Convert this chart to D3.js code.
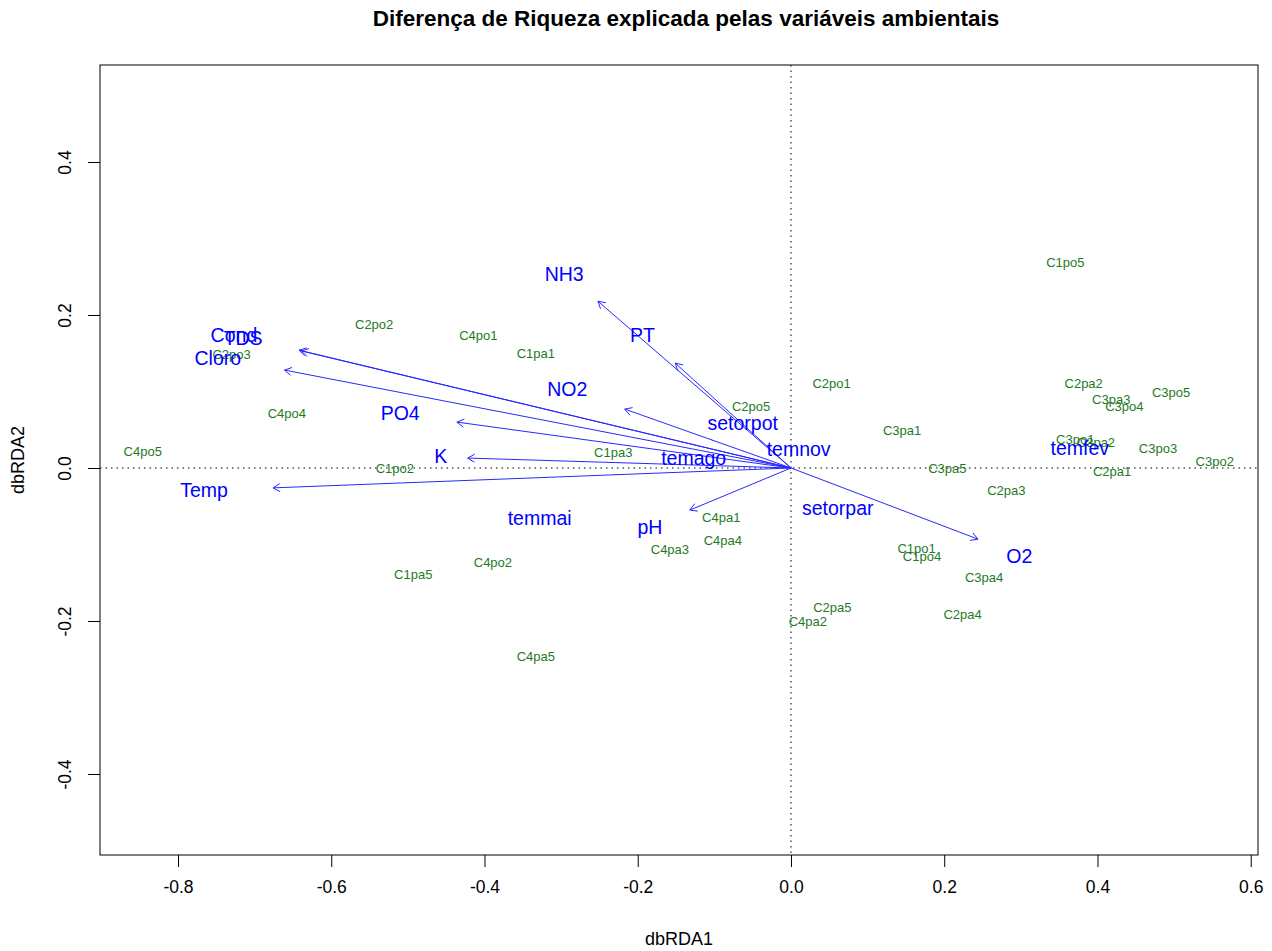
<!DOCTYPE html>
<html>
<head>
<meta charset="utf-8">
<script src="https://cdn.jsdelivr.net/npm/d3@7"></script>
<style>
  body { margin: 0; background: #fff; }
  text { font-family: "Liberation Sans", Arial, Helvetica, sans-serif; }
</style>
</head>
<body>
<svg id="plot" width="1272" height="951"></svg>
<script>
// site scores (green labels)
const siteNames = ["C2po2", "C2po3", "C4po4", "C4po5", "C1po2", "C4po1", "C1pa1", "C1pa3", "C2po5",
  "C1po5", "C2po1", "C2pa2", "C3po5", "C3pa3", "C3po4", "C3pa1", "C3po1", "C3pa2", "C3po3", "C3po2",
  "C3pa5", "C2pa1", "C2pa3", "C4pa1", "C4pa4", "C4pa3", "C4po2", "C1pa5", "C4pa5",
  "C1po1", "C1po4", "C3pa4", "C2pa5", "C4pa2", "C2pa4"];
const siteX = [-0.544, -0.730, -0.658, -0.846, -0.517, -0.408, -0.333, -0.232, -0.052,
  0.358, 0.053, 0.382, 0.496, 0.418, 0.435, 0.145, 0.371, 0.398, 0.479, 0.553,
  0.204, 0.419, 0.281, -0.091, -0.089, -0.158, -0.389, -0.493, -0.333,
  0.164, 0.171, 0.252, 0.054, 0.022, 0.224];
const siteY = [0.188, 0.149, 0.071, 0.021, 0.000, 0.173, 0.150, 0.020, 0.080,
  0.269, 0.110, 0.111, 0.099, 0.090, 0.080, 0.049, 0.037, 0.034, 0.026, 0.009,
  -0.001, -0.005, -0.030, -0.065, -0.095, -0.107, -0.123, -0.139, -0.246,
  -0.105, -0.115, -0.143, -0.182, -0.201, -0.191];

// biplot arrows for continuous variables
const vecNames = ["NH3", "PT", "Cond", "TDS", "Cloro", "PO4", "NO2", "K", "Temp", "pH", "O2"];
const vecX = [-0.252, -0.151, -0.642, -0.639, -0.661, -0.436, -0.217, -0.422, -0.676, -0.132, 0.244];
const vecY = [0.218, 0.137, 0.154, 0.153, 0.128, 0.060, 0.077, 0.013, -0.026, -0.055, -0.093];
const vecLabX = [-0.296, -0.194, -0.727, -0.715, -0.748, -0.510, -0.292, -0.457, -0.766, -0.184, 0.298];
const vecLabY = [0.254, 0.174, 0.173, 0.170, 0.144, 0.072, 0.103, 0.016, -0.029, -0.077, -0.115];

// factor centroids (blue labels, no arrows)
const facNames = ["temmai", "temago", "setorpot", "temnov", "setorpar", "temfev"];
const facX = [-0.328, -0.127, -0.063, 0.010, 0.061, 0.377];
const facY = [-0.065, 0.013, 0.058, 0.024, -0.052, 0.026];

const xTicks = [-0.8, -0.6, -0.4, -0.2, 0.0, 0.2, 0.4, 0.6];
const yTicks = [-0.4, -0.2, 0.0, 0.2, 0.4];

const mLeft = 100, mRight = 1258, mTop = 65, mBottom = 855;

const svg = d3.select("#plot");

const x = d3.scaleLinear().domain([-0.9018, 0.6095]).range([mLeft, mRight]);
const y = d3.scaleLinear().domain([-0.5059, 0.5268]).range([mBottom, mTop]);

// title
svg.append("text")
    .attr("x", (mLeft + mRight) / 2 + 7)
    .attr("y", 26)
    .attr("text-anchor", "middle")
    .style("font-size", "22.5px")
    .style("font-weight", "bold")
    .text("Diferença de Riqueza explicada pelas variáveis ambientais");

// axes
const fmt = d3.format(".1f");
const xAxis = svg.append("g")
    .attr("transform", "translate(0," + mBottom + ")")
    .call(d3.axisBottom(x).tickValues(xTicks).tickSize(12).tickPadding(14)
        .tickFormat(d => fmt(d).replace("−", "-")));
xAxis.select(".domain").remove();
xAxis.selectAll("text").style("font-size", "17.5px").style("font-family", "Liberation Sans, Arial, sans-serif");

const yAxis = svg.append("g")
    .attr("transform", "translate(" + mLeft + ",0)")
    .call(d3.axisLeft(y).tickValues(yTicks).tickSize(12).tickFormat(() => ""));
yAxis.select(".domain").remove();
yAxis.selectAll(".tick").append("text")
    .attr("transform", "translate(-29,0) rotate(-90)")
    .attr("text-anchor", "middle")
    .attr("fill", "#000")
    .style("font-size", "17.5px")
    .text(d => fmt(d).replace("−", "-"));

// axis titles
svg.append("text")
    .attr("x", (mLeft + mRight) / 2)
    .attr("y", 945)
    .attr("text-anchor", "middle")
    .style("font-size", "18px")
    .text("dbRDA1");
svg.append("text")
    .attr("transform", "translate(24," + (mTop + mBottom) / 2 + ") rotate(-90)")
    .attr("text-anchor", "middle")
    .style("font-size", "18px")
    .text("dbRDA2");

// dotted zero lines
svg.append("line")
    .attr("x1", mLeft).attr("x2", mRight)
    .attr("y1", y(0)).attr("y2", y(0))
    .attr("stroke", "#000").attr("stroke-dasharray", "1.5,4");
svg.append("line")
    .attr("x1", x(0)).attr("x2", x(0))
    .attr("y1", mTop).attr("y2", mBottom)
    .attr("stroke", "#000").attr("stroke-dasharray", "1.5,4");

// site labels
svg.append("g").selectAll("text")
    .data(siteNames)
    .join("text")
    .attr("x", (d, i) => x(siteX[i]))
    .attr("y", (d, i) => y(siteY[i]))
    .attr("dy", "0.35em")
    .attr("text-anchor", "middle")
    .attr("fill", "#1f7a1f")
    .style("font-size", "13px")
    .text(d => d);

// arrows
const head = 8, ang = Math.PI / 6;
const arrows = svg.append("g")
    .attr("stroke", "#2828ff")
    .attr("fill", "none")
    .attr("stroke-width", 1);
vecNames.forEach((n, i) => {
    const x0 = x(0), y0 = y(0), x1 = x(vecX[i]), y1 = y(vecY[i]);
    const a = Math.atan2(y1 - y0, x1 - x0);
    arrows.append("line")
        .attr("x1", x0).attr("y1", y0)
        .attr("x2", x1).attr("y2", y1);
    arrows.append("path")
        .attr("d", "M" + (x1 - head * Math.cos(a - ang)) + "," + (y1 - head * Math.sin(a - ang)) +
            "L" + x1 + "," + y1 +
            "L" + (x1 - head * Math.cos(a + ang)) + "," + (y1 - head * Math.sin(a + ang)));
});

// arrow labels
svg.append("g").selectAll("text")
    .data(vecNames)
    .join("text")
    .attr("x", (d, i) => x(vecLabX[i]))
    .attr("y", (d, i) => y(vecLabY[i]))
    .attr("dy", "0.35em")
    .attr("text-anchor", "middle")
    .attr("fill", "#0000ff")
    .style("font-size", "19.5px")
    .text(d => d);

// factor centroid labels
svg.append("g").selectAll("text")
    .data(facNames)
    .join("text")
    .attr("x", (d, i) => x(facX[i]))
    .attr("y", (d, i) => y(facY[i]))
    .attr("dy", "0.35em")
    .attr("text-anchor", "middle")
    .attr("fill", "#0000ff")
    .style("font-size", "19.5px")
    .text(d => d);

// plot box
svg.append("rect")
    .attr("x", mLeft).attr("y", mTop)
    .attr("width", mRight - mLeft).attr("height", mBottom - mTop)
    .attr("fill", "none").attr("stroke", "#000").attr("stroke-width", 1);
</script>
</body>
</html>
